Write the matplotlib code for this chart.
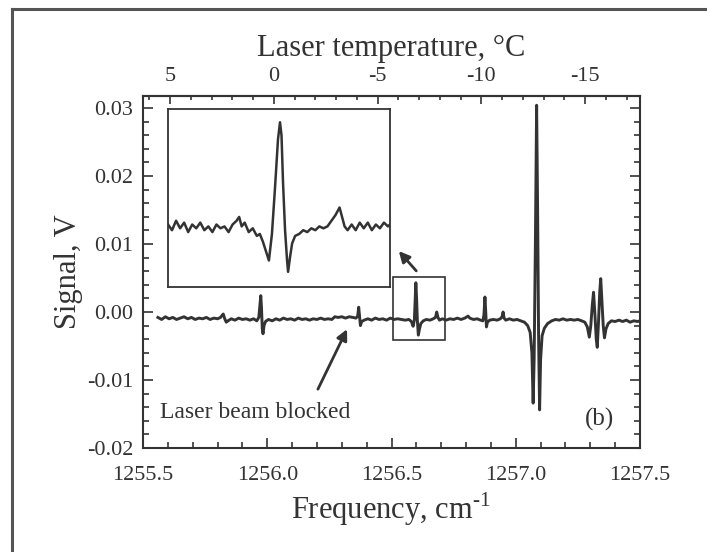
"""Laser absorption scan: signal vs frequency, with a temperature scale on top
and a magnified inset of the 1256.6 cm-1 line."""
import matplotlib
matplotlib.use("Agg")
import matplotlib.pyplot as plt
from matplotlib.lines import Line2D
from matplotlib.patches import Rectangle
from matplotlib.ticker import MultipleLocator, FormatStrFormatter, FixedLocator

plt.rcParams['font.family'] = ['Liberation Serif', 'DejaVu Serif']
plt.rcParams['mathtext.fontset'] = 'custom'
plt.rcParams['mathtext.rm'] = 'Liberation Serif'
plt.rcParams['axes.unicode_minus'] = False

INK = "#333333"

# main trace (cm-1, V)
freq = [
    1255.560, 1255.575, 1255.590, 1255.605, 1255.620, 1255.635, 1255.650, 1255.665,
    1255.680, 1255.695, 1255.710, 1255.725, 1255.740, 1255.755, 1255.770, 1255.785,
    1255.800, 1255.812, 1255.818, 1255.823, 1255.829, 1255.835, 1255.842, 1255.855,
    1255.870, 1255.885, 1255.900, 1255.915, 1255.930, 1255.945, 1255.958, 1255.966,
    1255.971, 1255.974, 1255.977, 1255.980, 1255.983, 1255.987, 1255.993, 1256.005,
    1256.020, 1256.035, 1256.050, 1256.065, 1256.080, 1256.095, 1256.110, 1256.125,
    1256.140, 1256.155, 1256.170, 1256.185, 1256.200, 1256.215, 1256.230, 1256.245,
    1256.260, 1256.272, 1256.285, 1256.300, 1256.315, 1256.330, 1256.345, 1256.357,
    1256.364, 1256.368, 1256.371, 1256.375, 1256.380, 1256.390, 1256.405, 1256.420,
    1256.435, 1256.450, 1256.465, 1256.480, 1256.495, 1256.510, 1256.525, 1256.540,
    1256.555, 1256.570, 1256.580, 1256.587, 1256.592, 1256.595, 1256.598, 1256.601,
    1256.604, 1256.608, 1256.612, 1256.618, 1256.628, 1256.640, 1256.655, 1256.668,
    1256.677, 1256.682, 1256.687, 1256.693, 1256.705, 1256.720, 1256.735, 1256.750,
    1256.765, 1256.780, 1256.795, 1256.808, 1256.815, 1256.830, 1256.845, 1256.858,
    1256.868, 1256.872, 1256.876, 1256.879, 1256.882, 1256.886, 1256.895, 1256.910,
    1256.925, 1256.938, 1256.945, 1256.949, 1256.953, 1256.960, 1256.975, 1256.990,
    1257.005, 1257.020, 1257.035, 1257.048, 1257.058, 1257.065, 1257.070, 1257.074,
    1257.079, 1257.084, 1257.088, 1257.092, 1257.096, 1257.100, 1257.106, 1257.115,
    1257.128, 1257.145, 1257.160, 1257.175, 1257.190, 1257.205, 1257.220, 1257.235,
    1257.250, 1257.265, 1257.278, 1257.288, 1257.296, 1257.302, 1257.308, 1257.313,
    1257.318, 1257.324, 1257.328, 1257.333, 1257.338, 1257.342, 1257.347, 1257.352,
    1257.357, 1257.363, 1257.372, 1257.385, 1257.400, 1257.415, 1257.430, 1257.445,
    1257.460, 1257.475, 1257.490, 1257.500,
]
signal = [
    -0.0008, -0.0011, -0.0007, -0.0010, -0.0008, -0.0011, -0.0009, -0.0007,
    -0.0010, -0.0008, -0.0011, -0.0009, -0.0010, -0.0008, -0.0011, -0.0009,
    -0.0010, -0.0008, -0.0005, -0.0003, -0.0010, -0.0015, -0.0013, -0.0010,
    -0.0012, -0.0009, -0.0011, -0.0010, -0.0012, -0.0010, -0.0013, -0.0008,
    0.0012, 0.0024, 0.0005, -0.0025, -0.0032, -0.0020, -0.0014, -0.0011,
    -0.0013, -0.0010, -0.0012, -0.0009, -0.0011, -0.0010, -0.0012, -0.0009,
    -0.0011, -0.0010, -0.0012, -0.0010, -0.0011, -0.0009, -0.0011, -0.0010,
    -0.0011, -0.0007, -0.0008, -0.0007, -0.0009, -0.0007, -0.0008, -0.0009,
    -0.0006, 0.0007, -0.0004, -0.0020, -0.0014, -0.0012, -0.0010, -0.0012,
    -0.0009, -0.0011, -0.0010, -0.0012, -0.0009, -0.0011, -0.0010, -0.0011,
    -0.0012, -0.0011, -0.0014, -0.0021, -0.0012, 0.0015, 0.0043, 0.0020,
    -0.0012, -0.0034, -0.0026, -0.0017, -0.0013, -0.0011, -0.0012, -0.0010,
    -0.0008, 0.0000, -0.0008, -0.0012, -0.0010, -0.0012, -0.0010, -0.0011,
    -0.0009, -0.0011, -0.0009, -0.0006, -0.0009, -0.0011, -0.0010, -0.0012,
    -0.0013, -0.0004, 0.0022, 0.0002, -0.0022, -0.0015, -0.0012, -0.0011,
    -0.0012, -0.0010, -0.0007, 0.0000, -0.0009, -0.0012, -0.0010, -0.0012,
    -0.0011, -0.0013, -0.0015, -0.0020, -0.0030, -0.0060, -0.0134, -0.0070,
    0.0100, 0.0304, 0.0150, -0.0040, -0.0144, -0.0070, -0.0035, -0.0024,
    -0.0017, -0.0013, -0.0011, -0.0012, -0.0010, -0.0012, -0.0011, -0.0012,
    -0.0011, -0.0013, -0.0015, -0.0022, -0.0037, -0.0020, 0.0010, 0.0029,
    0.0000, -0.0040, -0.0052, -0.0015, 0.0030, 0.0049, 0.0015, -0.0020,
    -0.0038, -0.0025, -0.0017, -0.0013, -0.0014, -0.0012, -0.0014, -0.0012,
    -0.0015, -0.0013, -0.0014, -0.0013,
]

# magnified line shown in the inset
inset_freq = [
    1256.500, 1256.504, 1256.508, 1256.512, 1256.516, 1256.520, 1256.524, 1256.528,
    1256.532, 1256.536, 1256.540, 1256.544, 1256.548, 1256.552, 1256.556, 1256.560,
    1256.564, 1256.568, 1256.5705, 1256.573, 1256.576, 1256.580, 1256.584, 1256.588,
    1256.591, 1256.594, 1256.597, 1256.600, 1256.603, 1256.606, 1256.609, 1256.611,
    1256.6125, 1256.614, 1256.616, 1256.618, 1256.619, 1256.621, 1256.623, 1256.626,
    1256.630, 1256.634, 1256.638, 1256.642, 1256.646, 1256.650, 1256.654, 1256.658,
    1256.662, 1256.666, 1256.670, 1256.672, 1256.675, 1256.678, 1256.682, 1256.686,
    1256.690, 1256.694, 1256.698, 1256.702, 1256.706, 1256.710, 1256.714, 1256.718,
    1256.720,
]
inset_signal = [
    -0.0007, -0.0010, -0.0005, -0.0009, -0.0006, -0.0011, -0.0007, -0.0009,
    -0.0006, -0.0010, -0.0008, -0.0011, -0.0007, -0.0009, -0.0008, -0.0011,
    -0.0007, -0.0005, -0.0003, -0.0008, -0.0006, -0.0011, -0.0009, -0.0013,
    -0.0012, -0.0016, -0.0021, -0.0026, -0.0012, 0.0012, 0.0038, 0.0047,
    0.0040, 0.0015, -0.0010, -0.0026, -0.0032, -0.0024, -0.0017, -0.0013,
    -0.0012, -0.0010, -0.0011, -0.0009, -0.0010, -0.0008, -0.0009, -0.0008,
    -0.0005, -0.0002, 0.0002, -0.0002, -0.0008, -0.0010, -0.0007, -0.0010,
    -0.0006, -0.0009, -0.0006, -0.0010, -0.0007, -0.0009, -0.0006, -0.0008,
    -0.0007,
]

freq_ticks = [1255.5, 1256.0, 1256.5, 1257.0, 1257.5]
signal_ticks = [-0.02, -0.01, 0.00, 0.01, 0.02, 0.03]
temp_ticks = [5, 0, -5, -10, -15]

# temperature tuning of the laser: 5 C at 1255.609 cm-1, -0.0835 cm-1 per C
T_REF, F_REF, DF_DT = 5.0, 1255.609, 0.0835

zoom_box = (1256.506, -0.00412, 0.209, 0.00927)   # x, y, w, h
zoom_arrow = ((1256.607, 0.00574), (1256.522, 0.00926))
blocked_arrow = ((1256.199, -0.01172), (1256.326, -0.00216))


def f2t(f):
    return T_REF - (f - F_REF) / DF_DT


def t2f(t):
    return F_REF + (T_REF - t) * DF_DT


W, H = 707, 552
fig = plt.figure(figsize=(W / 100, H / 100), dpi=100)
ax = fig.add_axes([143 / W, 1 - 448 / H, 497 / W, 352 / H])

ax.plot(freq, signal, color=INK, lw=2.1, solid_joinstyle="round")
ax.set_xlim(1255.5, 1257.5)
ax.set_ylim(-0.02, 0.03176)

ax.xaxis.set_major_locator(FixedLocator(freq_ticks))
ax.xaxis.set_minor_locator(MultipleLocator(0.1))
ax.yaxis.set_major_locator(FixedLocator(signal_ticks))
ax.yaxis.set_minor_locator(MultipleLocator(0.002))
ax.xaxis.set_major_formatter(FormatStrFormatter("%.1f"))
ax.yaxis.set_major_formatter(FormatStrFormatter("%.2f"))
ax.tick_params(which="both", direction="in", top=False, right=True,
               colors=INK, labelsize=16, width=1.2)
ax.tick_params(which="major", length=7)
ax.tick_params(which="minor", length=4)
ax.tick_params(axis="x", which="both", pad=13)
ax.tick_params(axis="y", which="both", pad=7)
for s in ax.spines.values():
    s.set_color(INK)
    s.set_linewidth(1.5)

ax.set_xlabel("Frequency, cm$^{\\mathregular{\u20101}}$", fontsize=22, color=INK,
              labelpad=4)
ax.set_ylabel("Signal, V", fontsize=22, color=INK, labelpad=3)

top = ax.secondary_xaxis("top", functions=(f2t, t2f))
top.xaxis.set_major_locator(FixedLocator(temp_ticks))
top.xaxis.set_minor_locator(MultipleLocator(1))
top.xaxis.set_major_formatter(FormatStrFormatter("%d"))
top.tick_params(which="both", direction="in", colors=INK, labelsize=16, width=1.2, pad=7)
top.tick_params(which="major", length=6)
top.tick_params(which="minor", length=3)
top.spines["top"].set_color(INK)
top.spines["top"].set_linewidth(1.5)
top.set_xlabel("Laser temperature, °C", fontsize=22, color=INK, labelpad=8)

# box round the magnified line and arrows
bx, by, bw, bh = zoom_box
ax.add_patch(Rectangle((bx, by), bw, bh, fill=False, ec=INK, lw=1.2))
ax.annotate("", xy=zoom_arrow[1], xytext=zoom_arrow[0],
            arrowprops=dict(arrowstyle="-|>", color=INK, lw=2.0, mutation_scale=16))
ax.annotate("", xy=blocked_arrow[1], xytext=blocked_arrow[0],
            arrowprops=dict(arrowstyle="-|>", color=INK, lw=2.0, mutation_scale=16))
ax.text(1255.568, -0.01485, "Laser beam blocked", fontsize=17, color=INK,
        ha="left", va="center")
ax.text(1257.339, -0.01574, "(b)", fontsize=18, color=INK, ha="center", va="center")

# inset
axi = fig.add_axes([168 / W, 1 - 287 / H, 222 / W, 178 / H])
axi.plot(inset_freq, inset_signal, color=INK, lw=1.8, solid_joinstyle="round")
axi.set_xlim(1256.50, 1256.72)
axi.set_ylim(-0.0040, 0.0054)
axi.set_xticks([])
axi.set_yticks([])
for s in axi.spines.values():
    s.set_color(INK)
    s.set_linewidth(1.3)

# outer frame of the scanned figure
fig.add_artist(Line2D([12 / W, 12 / W], [0, 1 - 9 / H], color="#555555", lw=2.2))
fig.add_artist(Line2D([12 / W, 1], [1 - 9 / H, 1 - 9 / H], color="#555555", lw=2.2))

fig.savefig("out.png", dpi=100, facecolor="white")
